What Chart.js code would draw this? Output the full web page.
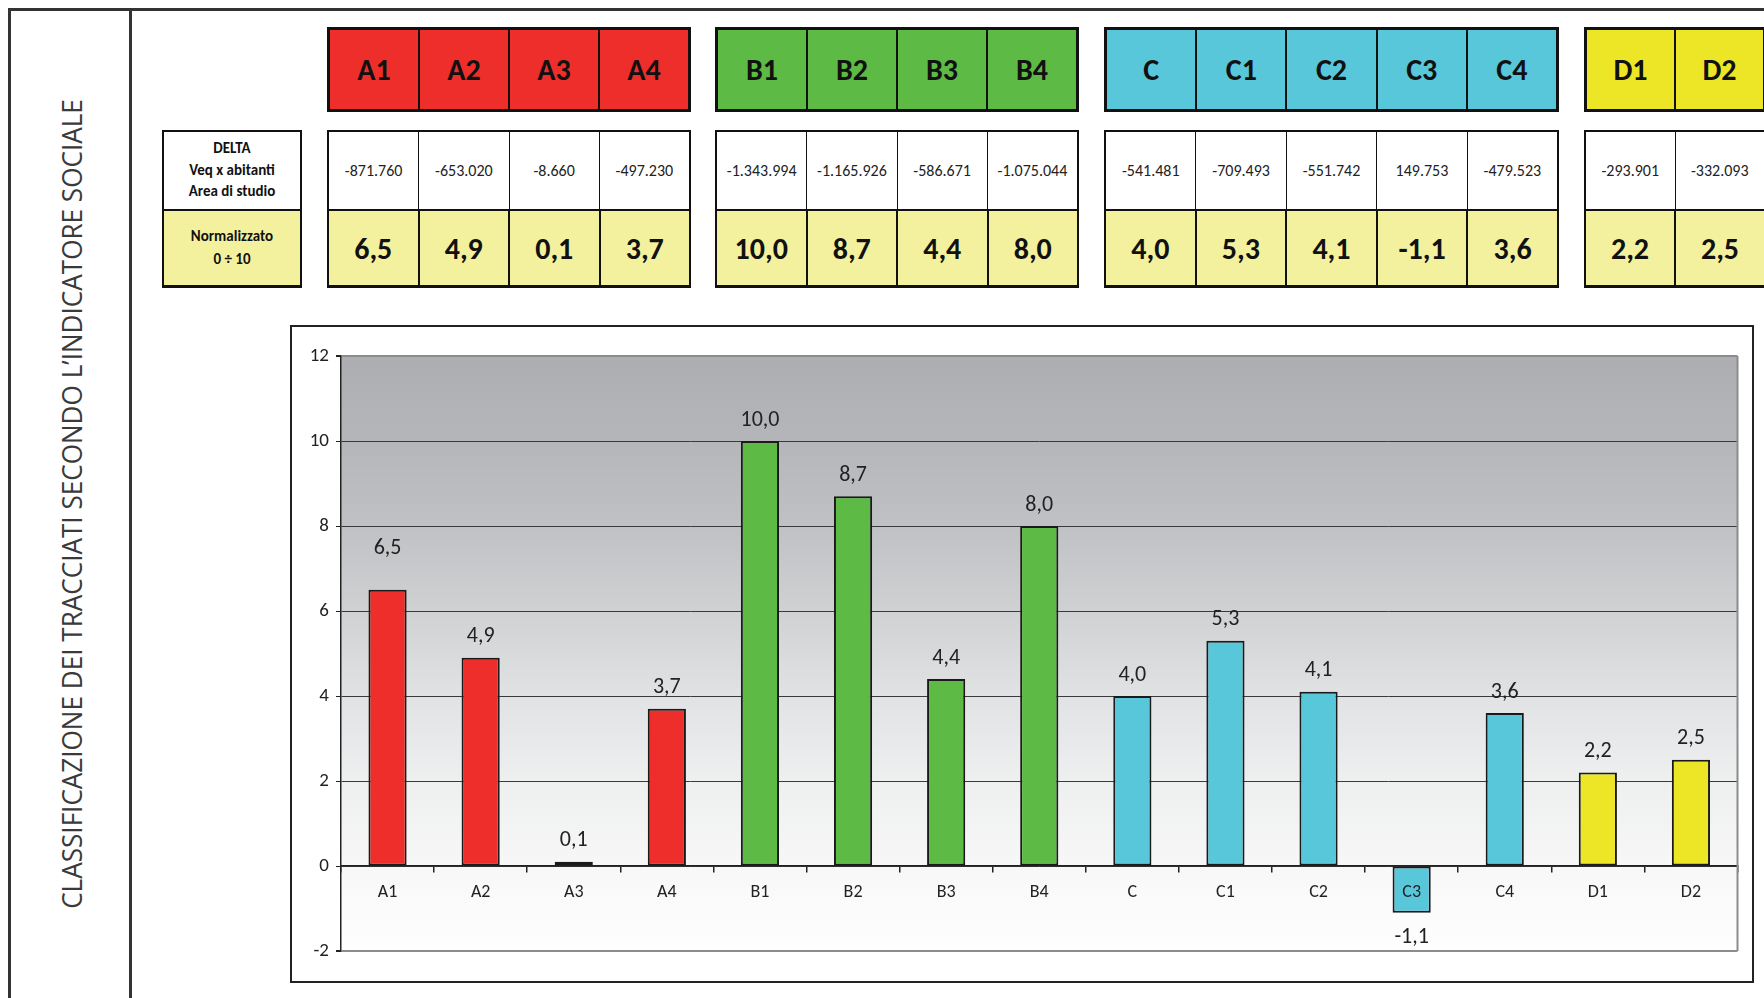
<!DOCTYPE html>
<html><head><meta charset="utf-8">
<script src="https://cdn.jsdelivr.net/npm/chart.js@4.4.1/dist/chart.umd.min.js"></script>
<style>
html,body{margin:0;padding:0;width:1764px;height:998px;overflow:hidden;background:#fff;}
body{position:relative;font-family:Carlito,Lato,"Liberation Sans",sans-serif;color:#111;}
.abs{position:absolute;box-sizing:border-box;}
#frame{left:8px;top:8px;width:2000px;height:2000px;border-left:3px solid #333;border-top:3px solid #333;}
#divider{left:129px;top:9px;width:3px;height:1000px;background:#333;}
#title{left:71px;top:504px;white-space:nowrap;font-family:"Open Sans",sans-serif;font-size:28px;color:#3a3a3a;transform-origin:50% 50%;}
.hgrp{display:flex;border:3px solid #111;}
.hcell{flex:1;display:flex;align-items:center;justify-content:center;font-weight:bold;font-size:30px;color:#111;}
.hcell + .hcell{border-left:2px solid #111;}
.dgrp{display:flex;flex-direction:column;border:2px solid #111;border-bottom:3px solid #111;}
.drow{height:77px;display:flex;background:#fff;border-bottom:2px solid #111;}
.nrow{flex:1;display:flex;background:#f3f19e;}
.dcell{flex:1;display:flex;align-items:center;justify-content:center;text-align:center;}
.drow .dcell{font-size:16px;color:#222;}
.nrow .dcell{font-size:30px;font-weight:bold;color:#111;}
.drow .dcell + .dcell{border-left:1.5px solid #111;}
.nrow .dcell + .dcell{border-left:2px solid #111;}
.drow .dcell.lbl, .nrow .dcell.lbl{font-weight:bold;font-size:15px;color:#111;}
#chartbox{left:290px;top:325px;width:1464px;height:658px;border:2px solid #222;}
#chart{position:absolute;left:291px;top:326px;}
</style></head>
<body>
<div id="frame" class="abs"></div>
<div id="divider" class="abs"></div>
<div id="title" class="abs"><span id="titletext">CLASSIFICAZIONE DEI TRACCIATI SECONDO L’INDICATORE SOCIALE</span></div>
<div id="tables"></div>
<div id="chartbox" class="abs"></div>
<canvas id="chart" width="1461" height="656"></canvas>
<script>
// ---- data ----
const categories = ['A1','A2','A3','A4','B1','B2','B3','B4','C','C1','C2','C3','C4','D1','D2'];
const deltaValues = ['-871.760','-653.020','-8.660','-497.230','-1.343.994','-1.165.926','-586.671','-1.075.044','-541.481','-709.493','-551.742','149.753','-479.523','-293.901','-332.093'];
const normValues = [6.5, 4.9, 0.1, 3.7, 10.0, 8.7, 4.4, 8.0, 4.0, 5.3, 4.1, -1.1, 3.6, 2.2, 2.5];
const groupSizes = [4, 4, 5, 2];
const groupColors = ['#ee2e2b', '#5dba45', '#59c7da', '#ede626'];
const yTickMin = -2, yTickMax = 12, yTickStep = 2;
const deltaLabelLines = ['DELTA', 'Veq x abitanti', 'Area di studio'];
const normLabelLines = ['Normalizzato', '0 ÷ 10'];

// ---- layout helpers ----
const fmt = v => v.toFixed(1).replace('.', ',');
const groupStarts = [327, 715, 1104, 1584];
const cellW = 91;
const barColors = [];
groupSizes.forEach((n, g) => { for (let k = 0; k < n; k++) barColors.push(groupColors[g]); });

const tables = document.getElementById('tables');
let idx = 0;
groupSizes.forEach((n, g) => {
  const h = document.createElement('div');
  h.className = 'abs hgrp';
  Object.assign(h.style, {left: groupStarts[g] + 'px', top: '27px', width: (n * cellW) + 'px', height: '85px', background: groupColors[g]});
  const d = document.createElement('div');
  d.className = 'abs dgrp';
  Object.assign(d.style, {left: groupStarts[g] + 'px', top: '130px', width: (n * cellW) + 'px', height: '158px'});
  const r1 = document.createElement('div'); r1.className = 'drow';
  const r2 = document.createElement('div'); r2.className = 'nrow';
  for (let k = 0; k < n; k++, idx++) {
    const c = document.createElement('div'); c.className = 'hcell'; c.textContent = categories[idx]; h.appendChild(c);
    const c1 = document.createElement('div'); c1.className = 'dcell'; c1.textContent = deltaValues[idx]; r1.appendChild(c1);
    const c2 = document.createElement('div'); c2.className = 'dcell'; c2.textContent = fmt(normValues[idx]); r2.appendChild(c2);
  }
  d.appendChild(r1); d.appendChild(r2);
  tables.appendChild(h); tables.appendChild(d);
});
// label column
(function(){
  const d = document.createElement('div');
  d.className = 'abs dgrp';
  Object.assign(d.style, {left: '162px', top: '130px', width: '140px', height: '158px'});
  const r1 = document.createElement('div'); r1.className = 'drow';
  const r2 = document.createElement('div'); r2.className = 'nrow';
  const c1 = document.createElement('div'); c1.className = 'dcell lbl'; c1.style.lineHeight = '21.5px'; c1.innerHTML = deltaLabelLines.join('<br>');
  const c2 = document.createElement('div'); c2.className = 'dcell lbl'; c2.style.lineHeight = '23px'; c2.innerHTML = normLabelLines.join('<br>');
  r1.appendChild(c1); r2.appendChild(c2); d.appendChild(r1); d.appendChild(r2); tables.appendChild(d);
})();

// title fit
const tt = document.getElementById('titletext');
const k = 810 / tt.offsetWidth;
document.getElementById('title').style.transform = 'translate(-50%,-50%) rotate(-90deg) scaleX(' + k.toFixed(4) + ')';

// ---- chart ----
const FONT = 'Carlito, Lato, "Liberation Sans", sans-serif';
const bgPlugin = {
  id: 'bg',
  beforeDraw(chart) {
    const {ctx, chartArea: a} = chart;
    const g = ctx.createLinearGradient(0, a.top, 0, a.bottom);
    g.addColorStop(0, '#adaeb2');
    g.addColorStop(0.143, '#b5b6ba');
    g.addColorStop(0.286, '#c0c1c4');
    g.addColorStop(0.429, '#d0d1d3');
    g.addColorStop(0.571, '#e1e2e4');
    g.addColorStop(0.714, '#eeefef');
    g.addColorStop(0.857, '#f7f7f7');
    g.addColorStop(0.907, '#fafafa');
    g.addColorStop(1, '#fefefe');
    ctx.save(); ctx.fillStyle = g; ctx.fillRect(a.left, a.top, a.right - a.left, a.bottom - a.top); ctx.restore();
  },
  beforeDatasetsDraw(chart) {
    const {ctx, chartArea: a} = chart;
    ctx.save(); ctx.strokeStyle = '#8c8c8c'; ctx.lineWidth = 2;
    ctx.beginPath(); ctx.moveTo(a.right, a.top); ctx.lineTo(a.right, a.bottom); ctx.stroke(); ctx.restore();
  }
};
const labelExtraLift = {A1: 20};
const valueLabelPlugin = {
  id: 'valueLabels',
  afterDatasetsDraw(chart) {
    const ctx = chart.ctx; const meta = chart.getDatasetMeta(0);
    ctx.save(); ctx.font = '22px ' + FONT; ctx.fillStyle = '#222'; ctx.textAlign = 'center'; ctx.textBaseline = 'middle';
    meta.data.forEach((bar, i) => {
      const v = normValues[i];
      const lift = labelExtraLift[categories[i]] || 0;
      const y = v >= 0 ? bar.y - 21 - lift : bar.y + 25;
      ctx.fillText(fmt(v), bar.x, y);
    });
    ctx.restore();
  }
};

new Chart(document.getElementById('chart'), {
  type: 'bar',
  data: {labels: categories, datasets: [{data: normValues, backgroundColor: barColors, borderColor: '#1a1a1a', borderWidth: 2, borderSkipped: false, barPercentage: 0.41, categoryPercentage: 1}]},
  options: {
    responsive: false, animation: false, devicePixelRatio: 1,
    layout: {padding: {top: 30, right: 14.5, bottom: 31, left: 0}},
    plugins: {legend: {display: false}, tooltip: {enabled: false}},
    scales: {
      x: {
        position: {y: 0}, offset: true,
        grid: {offset: true, drawOnChartArea: false, drawTicks: true, tickLength: 6, color: '#222', tickColor: '#222', lineWidth: 1.5},
        border: {display: true, color: '#222', width: 1.5},
        ticks: {z: 1, font: {family: FONT, size: 18}, color: '#222', padding: 10, maxRotation: 0, autoSkip: false}
      },
      y: {
        min: yTickMin, max: yTickMax,
        afterFit(s) { s.width = 50; },
        ticks: {stepSize: yTickStep, font: {family: FONT, size: 19}, color: '#222', padding: 7},
        grid: {
          color: c => (c.tick && (c.tick.value === yTickMax || c.tick.value === yTickMin)) ? '#8c8c8c' : '#3a3a3a',
          lineWidth: c => (c.tick && (c.tick.value === yTickMax || c.tick.value === yTickMin)) ? 2 : 1,
          tickColor: '#222', tickLength: 5
        },
        border: {display: true, color: '#222', width: 1.5}
      }
    }
  },
  plugins: [bgPlugin, valueLabelPlugin]
});
</script>
</body></html>
